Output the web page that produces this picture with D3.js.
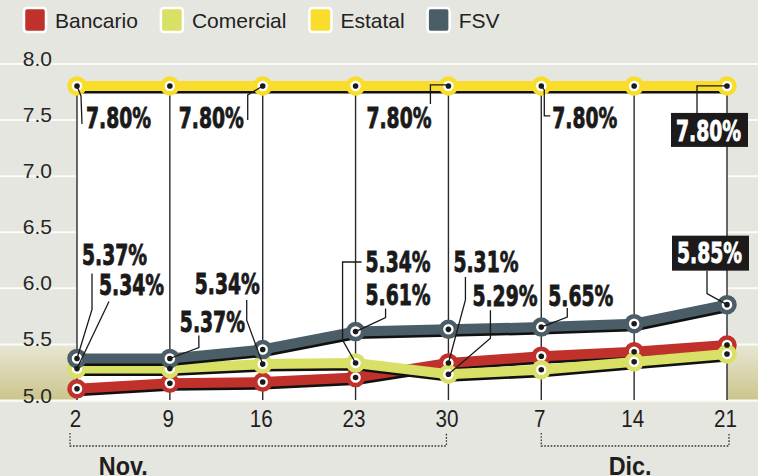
<!DOCTYPE html>
<html>
<head>
<meta charset="utf-8">
<script src="https://cdn.jsdelivr.net/npm/d3@7"></script>
<style>
	body { margin: 0; background: #fff; }
	svg { display: block; }
</style>
</head>
<body>
<div id="chart"></div>
<script>
// Tasas semanales por tipo de banco

var fechas = ["2", "9", "16", "23", "30", "7", "14", "21"];
var meses = ["Nov.", "Dic."];
var mesDesde = [0, 5];
var mesHasta = [4, 7];

var bancario  = [5.10, 5.15, 5.16, 5.20, 5.33, 5.39, 5.43, 5.49];
var comercial = [5.28, 5.28, 5.32, 5.33, 5.23, 5.27, 5.34, 5.41];
var estatal   = [7.80, 7.80, 7.80, 7.80, 7.80, 7.80, 7.80, 7.80];
var fsv       = [5.37, 5.37, 5.45, 5.61, 5.63, 5.65, 5.68, 5.85];

var yTicks = [5.0, 5.5, 6.0, 6.5, 7.0, 7.5, 8.0];

var nombres = ["Bancario", "Comercial", "Estatal", "FSV"];
var colores = ["#c0312b", "#d9e066", "#fadd2a", "#4b5d67"];
var valores = [bancario, comercial, estatal, fsv];

// etiquetas de valor: serie, semana, texto
var etiquetas = [
	{serie: "Estatal",   i: 0, texto: "7.80%"},
	{serie: "Estatal",   i: 2, texto: "7.80%"},
	{serie: "Estatal",   i: 4, texto: "7.80%"},
	{serie: "Estatal",   i: 5, texto: "7.80%"},
	{serie: "Estatal",   i: 7, texto: "7.80%"},
	{serie: "FSV",       i: 0, texto: "5.37%"},
	{serie: "Comercial", i: 0, texto: "5.34%"},
	{serie: "FSV",       i: 1, texto: "5.37%"},
	{serie: "Comercial", i: 2, texto: "5.34%"},
	{serie: "Comercial", i: 3, texto: "5.34%"},
	{serie: "FSV",       i: 3, texto: "5.61%"},
	{serie: "Bancario",  i: 4, texto: "5.31%"},
	{serie: "Comercial", i: 4, texto: "5.29%"},
	{serie: "FSV",       i: 5, texto: "5.65%"},
	{serie: "FSV",       i: 7, texto: "5.85%"}
];

// colocacion de cada etiqueta respecto a su punto (mismo orden)
var colocacion = [
	{dx: 9,   dy: 42,  guia: [[0,0],[4,10],[5,38]]},
	{dx: -84, dy: 42,  guia: [[0,0],[-15,9],[-15,34]]},
	{dx: -82, dy: 42,  guia: [[0,-1],[-18,-1],[-18,18]]},
	{dx: 11,  dy: 42,  guia: [[0,0],[3,4],[3,30],[9,30]]},
	{dx: -51, dy: 55,  guia: [[0,0],[-30,0],[-30,27]], caja: [-56,27,77,34]},
	{dx: 5,   dy: -93, guia: [[0,0],[15,-49],[15,-85]]},
	{dx: 22,  dy: -74, guia: [[0,0],[32,-67]]},
	{dx: 10,  dy: -26, guia: [[0,0],[29,-11],[29,-23]]},
	{dx: -68, dy: -70, guia: [[0,0],[-16,-44],[-16,-64]]},
	{dx: 10,  dy: -91, guia: [[0,0],[-13,-23],[-13,-101],[6,-101]]},
	{dx: 10,  dy: -27, guia: [[0,0],[30,-14],[30,-23]]},
	{dx: 5,   dy: -91, guia: [[0,0],[17,-63],[17,-86]]},
	{dx: 24,  dy: -68, guia: [[0,0],[42,-36],[42,-64]]},
	{dx: 7,   dy: -21, guia: [[0,0],[26,-10],[26,-19]]},
	{dx: -50, dy: -42, guia: [[0,0],[-20,-11],[-20,-34]], caja: [-55,-69,77,35]}
];

var w = 765, h = 476;
var panelW = 758;

var svg = d3.select("#chart")
	.append("svg")
		.attr("width", w)
		.attr("height", h);

// Scales
var x = d3.scalePoint()
	.domain(d3.range(fechas.length))
	.range([77, 727]);
var y = d3.scaleLinear()
	.domain([5, 8])
	.range([400, 63.5]);

var defs = svg.append("defs");
var grad = defs.append("linearGradient")
	.attr("id", "khaki")
	.attr("x1", 0).attr("y1", 0).attr("x2", 0).attr("y2", 1);
grad.append("stop").attr("offset", "0%").attr("stop-color", "#e8e7d6");
grad.append("stop").attr("offset", "100%").attr("stop-color", "#cbc58c");

// fondo gris
svg.append("rect")
	.attr("width", panelW).attr("height", h)
	.attr("fill", "#e6e6e0");

// bandas caqui debajo de 5.5
svg.append("rect")
	.attr("x", 0).attr("y", y(5.5))
	.attr("width", panelW).attr("height", y(5.0) - y(5.5))
	.attr("fill", "url(#khaki)");
svg.append("line")
	.attr("x1", 0).attr("x2", panelW)
	.attr("y1", y(5) + 1.5).attr("y2", y(5) + 1.5)
	.attr("stroke", "#f2f0d8")
	.attr("stroke-width", 1.5);

// Y axis (gridlines + labels)
var yAxis = d3.axisRight(y)
	.tickValues(yTicks)
	.tickFormat(d3.format(".1f"))
	.tickSize(panelW);

var gY = svg.append("g")
	.attr("class", "axis")
	.call(yAxis);
gY.select(".domain").remove();
gY.selectAll("line")
	.attr("stroke", "#fbfbf8")
	.attr("stroke-width", 2);
gY.selectAll("text")
	.attr("x", 52)
	.attr("dy", 2)
	.attr("text-anchor", "end")
	.attr("fill", "#262626")
	.attr("font-family", "Liberation Sans, Arial, sans-serif")
	.attr("font-size", 21);

// area blanca del grafico
svg.append("rect")
	.attr("x", x(0)).attr("y", y(7.8))
	.attr("width", x(fechas.length - 1) - x(0))
	.attr("height", y(5) - y(7.8))
	.attr("fill", "#fff");

// verticales por semana
svg.append("g").selectAll("line")
	.data(fechas)
	.enter()
	.append("line")
	.attr("x1", function(d, i){ return x(i); })
	.attr("x2", function(d, i){ return x(i); })
	.attr("y1", y(7.8))
	.attr("y2", y(5))
	.attr("stroke", "#2a2a2a")
	.attr("stroke-width", 1.4);

// X axis
var xAxis = d3.axisBottom(x)
	.tickFormat(function(i){ return fechas[i]; })
	.tickSize(0);
var gX = svg.append("g")
	.attr("class", "axis")
	.attr("transform", "translate(0," + y(5) + ")")
	.call(xAxis);
gX.select(".domain").remove();
gX.selectAll("text")
	.attr("y", 27)
	.attr("dy", 0)
	.attr("transform", "translate(-2,0) scale(0.86,1)")
	.attr("fill", "#1e1e1e")
	.attr("font-family", "Liberation Sans, Arial, sans-serif")
	.attr("font-size", 24);

// llaves de los meses
var llaves = svg.append("g");
var mesAjuste = [-135, -5];
meses.forEach(function(m, k){
	var x0 = x(mesDesde[k]) - (k === 0 ? 7 : 0);
	var x1 = x(mesHasta[k]) + (k === 0 ? -2 : 2);
	llaves.append("path")
		.attr("d", "M" + x0 + ",433V446H" + x1 + "V433")
		.attr("fill", "none")
		.attr("stroke", "#333")
		.attr("stroke-width", 1.3)
		.attr("stroke-dasharray", "1.6,1.6");
	llaves.append("text")
		.attr("transform", "translate(" + ((x0 + x1) / 2 + mesAjuste[k]) + ",475) scale(0.9,1)")
		.attr("text-anchor", "middle")
		.attr("font-family", "Liberation Sans, Arial, sans-serif")
		.attr("font-weight", "bold")
		.attr("font-size", 26)
		.attr("fill", "#1e1e1e")
		.text(m);
});

//**********************//
//		Series			//
//**********************//

var line = d3.line()
	.x(function(d, i){ return x(i); })
	.y(function(d){ return y(d); });

var series = svg.append("g");
valores.forEach(function(vals, k){
	var g = series.append("g").attr("class", "serie");
	// sombra negra
	g.append("path")
		.attr("d", line(vals))
		.attr("transform", "translate(1,3)")
		.attr("fill", "none")
		.attr("stroke", "#111")
		.attr("stroke-width", 9);
	g.append("path")
		.attr("d", line(vals))
		.attr("fill", "none")
		.attr("stroke", colores[k])
		.attr("stroke-width", 10);
	g.selectAll("circle.ring")
		.data(vals)
		.enter()
		.append("circle")
		.attr("class", "ring")
		.attr("cx", function(d, i){ return x(i); })
		.attr("cy", function(d){ return y(d); })
		.attr("r", 7.5)
		.attr("fill", "#fff")
		.attr("stroke", colores[k])
		.attr("stroke-width", 4.5);
});

// guias y etiquetas
var anot = svg.append("g");
etiquetas.forEach(function(e, k){
	var c = colocacion[k];
	var vals = valores[nombres.indexOf(e.serie)];
	var px = x(e.i), py = y(vals[e.i]);
	anot.append("path")
		.attr("d", d3.line()(c.guia.map(function(p){ return [px + p[0], py + p[1]]; })))
		.attr("fill", "none")
		.attr("stroke", "#1a1a1a")
		.attr("stroke-width", 1.3);
	if (c.caja) {
		anot.append("rect")
			.attr("x", px + c.caja[0]).attr("y", py + c.caja[1])
			.attr("width", c.caja[2]).attr("height", c.caja[3])
			.attr("fill", "#1c1a1a");
	}
	var col = c.caja ? "#fff" : "#1a1a1a";
	anot.append("text")
		.attr("transform", "translate(" + (px + c.dx) + "," + (py + c.dy) + ") scale(0.67,1)")
		.attr("font-family", "DejaVu Sans, sans-serif")
		.attr("font-weight", "bold")
		.attr("font-size", 28)
		.attr("fill", col)
		.attr("stroke", col)
		.attr("stroke-width", 0.9)
		.text(e.texto);
});

// puntos negros al centro
valores.forEach(function(vals){
	anot.append("g").selectAll("circle")
		.data(vals)
		.enter()
		.append("circle")
		.attr("cx", function(d, i){ return x(i); })
		.attr("cy", function(d){ return y(d); })
		.attr("r", 2.8)
		.attr("fill", "#1a1a1a");
});

//**********************//
//		Leyenda			//
//**********************//

var leyenda = svg.append("g");
var lx = 24;
nombres.forEach(function(n, k){
	leyenda.append("rect")
		.attr("x", lx).attr("y", 8)
		.attr("width", 22).attr("height", 24)
		.attr("rx", 3)
		.attr("fill", colores[k])
		.attr("stroke", "#fff")
		.attr("stroke-width", 2.5);
	var t = leyenda.append("text")
		.attr("x", lx + 31).attr("y", 28)
		.attr("font-family", "Liberation Sans, Arial, sans-serif")
		.attr("font-size", 21)
		.attr("fill", "#222")
		.text(n);
	lx += 31 + t.node().getComputedTextLength() + 23;
});
</script>
</body>
</html>
